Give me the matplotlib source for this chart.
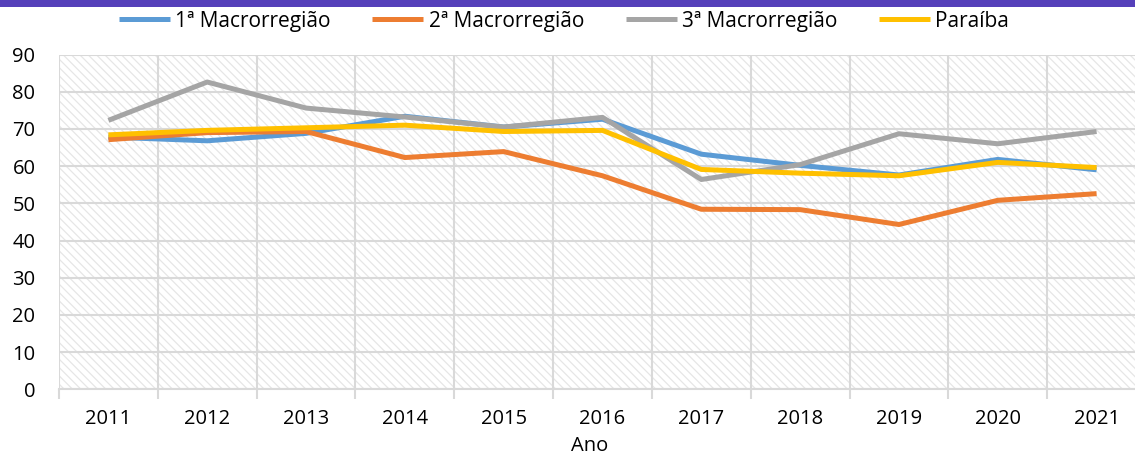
import matplotlib
matplotlib.use("Agg")
import matplotlib.pyplot as plt
import matplotlib.patches as mpatches

years = ["2011", "2012", "2013", "2014", "2015", "2016", "2017", "2018", "2019", "2020", "2021"]
macro1 = [67.8, 66.8, 68.8, 73.4, 70.5, 72.6, 63.2, 60.2, 57.6, 61.8, 59.0]
macro2 = [67.1, 69.0, 69.3, 62.3, 63.9, 57.4, 48.4, 48.3, 44.3, 50.8, 52.6]
macro3 = [72.3, 82.6, 75.6, 73.2, 70.5, 73.1, 56.4, 60.4, 68.7, 66.0, 69.3]
paraiba = [68.4, 69.6, 70.3, 71.0, 69.3, 69.6, 59.1, 58.1, 57.4, 61.0, 59.6]

series_names = ["1ª Macrorregião", "2ª Macrorregião", "3ª Macrorregião", "Paraíba"]
series_values = [macro1, macro2, macro3, paraiba]
colors = ["#5B9BD5", "#ED7D31", "#A5A5A5", "#FFC000"]
yticks = [0, 10, 20, 30, 40, 50, 60, 70, 80, 90]

plt.rcParams['font.family'] = ['Open Sans', 'DejaVu Sans']
plt.rcParams['hatch.linewidth'] = 0.9
plt.rcParams['hatch.color'] = '#e6e6e6'

W, H = 1135, 455
fig = plt.figure(figsize=(W / 100, H / 100), dpi=100)
fig.patch.set_facecolor("white")

# purple top bar
fig.patches.append(mpatches.Rectangle((0, 1 - 7 / H), 1, 7 / H, transform=fig.transFigure,
                                      facecolor="#5540BA", edgecolor="none", zorder=10))

left, right, top, bottom = 59, 1146, 54.5, 389.3
ax = fig.add_axes([left / W, 1 - bottom / H, (right - left) / W, (bottom - top) / H])
ax.patch.set_facecolor("white")
ax.add_patch(mpatches.Rectangle((0, 0), 1, 1, transform=ax.transAxes, facecolor="none",
                                edgecolor="#e6e6e6", hatch="\\\\\\\\", linewidth=0, zorder=0))

x = list(range(len(years)))
for name, vals, c in zip(series_names, series_values, colors):
    ax.plot(x, vals, color=c, linewidth=3.6, label=name, solid_capstyle="butt", zorder=3)

ax.set_xlim(-0.5, len(years) - 0.5)
ax.set_ylim(0, 90)
ax.set_yticks(yticks)
ax.set_yticklabels([str(v) for v in yticks])
ax.set_xticks(x)
ax.set_xticklabels(years)
ax.set_xticks([i - 0.5 for i in range(len(years) + 1)], minor=True)
ax.tick_params(axis="x", which="major", length=0, pad=14, labelsize=14.5)
ax.tick_params(axis="x", which="minor", length=7, width=1.5, color="#D9D9D9", direction="out")
ax.tick_params(axis="y", length=0, pad=17, labelsize=14.5)
ax.grid(True, axis="y", color="#D9D9D9", linewidth=1.5, zorder=1)
ax.grid(True, axis="x", which="minor", color="#D9D9D9", linewidth=1.5, zorder=1)
for s in ["top", "right", "left"]:
    ax.spines[s].set_visible(False)
ax.spines["bottom"].set_color("#D9D9D9")
ax.spines["bottom"].set_linewidth(1.5)
ax.set_axisbelow(True)

fig.text(590 / W, 1 - 446 / H, "Ano", ha="center", va="center", fontsize=14.5)

fig.legend(loc="center", bbox_to_anchor=(564 / W, 1 - 21 / H), ncol=4, frameon=False,
           fontsize=15, handlelength=2.45, columnspacing=2.0, handletextpad=0.25)

fig.savefig("out.png", dpi=100)
